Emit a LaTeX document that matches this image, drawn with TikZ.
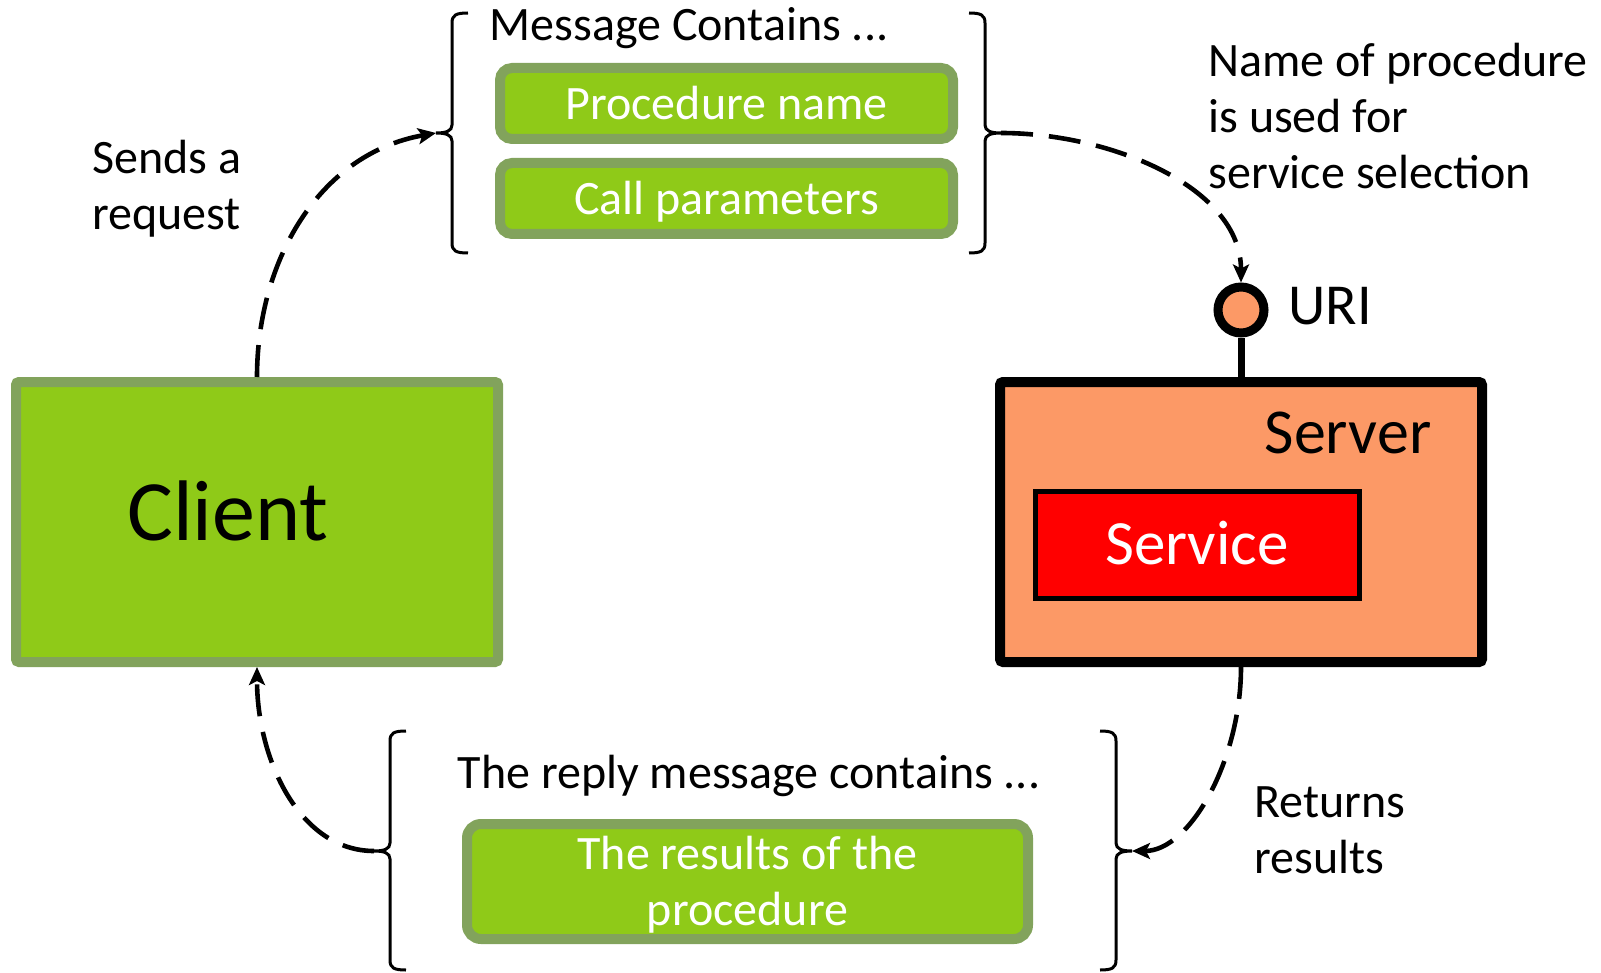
\documentclass[tikz,border=0pt]{standalone}
\usepackage{fontspec}
\setmainfont{Carlito}
\usetikzlibrary{arrows.meta}

\definecolor{leaf}{RGB}{143,202,24}
\definecolor{leafedge}{RGB}{130,163,92}
\definecolor{peach}{RGB}{252,153,102}

\begin{document}
\begin{tikzpicture}[x=0.5pt,y=-0.5pt,
  every node/.style={inner sep=0pt},
  txt/.style={font=\fontsize{24}{28}\selectfont},
  leafbox/.style={draw=leafedge, fill=leaf, line width=5pt},
  pill/.style={leafbox, rounded corners=6pt, text=white, txt, text height=16pt, text depth=0pt},
  flow/.style={line width=2.3pt, dash pattern=on 16pt off 8pt, -{Stealth[length=9pt,width=8pt,inset=2pt]}},
  brace/.style={line width=1.5pt},
]
\useasboundingbox (0,0) rectangle (1601,973);

% client
\node[leafbox, rounded corners=1.5pt, minimum width=241pt, minimum height=140pt] (client) at (257,522) {};
\node[font=\fontsize{43}{50}\selectfont, anchor=base] (clientname) at (228,540) {Client};

% server with its service and URI
\node[draw=black, fill=peach, line width=5pt, rounded corners=1.5pt, minimum width=241pt, minimum height=140pt] (server) at (1241,522) {};
\node[font=\fontsize{32}{38}\selectfont, anchor=base] (servername) at (1348,453) {Server};
\node[draw=black, fill=red, line width=2.5pt, minimum width=162pt, minimum height=53.25pt, text=white, font=\fontsize{31.5}{38}\selectfont, text height=20.2pt, text depth=0pt] (service) at (1197,544.75) {Service};
\node[circle, draw=black, fill=peach, line width=4.5pt, minimum size=23pt] (uri) at (1241,310) {};
\node[font=\fontsize{29}{34}\selectfont, anchor=base west] (uriname) at (1288,325) {URI};
\draw[line width=3.5pt] (uri.south) -- (server.north);

% request message
\node[txt, anchor=base] (msgtitle) at (689,41) {Message Contains ...};
\node[pill, minimum width=226.5pt, minimum height=35.5pt] (procname) at (726.5,103.5) {Procedure name};
\node[pill, minimum width=226.5pt, minimum height=35.5pt] (callparams) at (726.5,198.5) {Call parameters};

% reply message
\node[txt, anchor=base] (replytitle) at (749,788) {The reply message contains ...};
\node[pill, rounded corners=7pt, minimum width=280.5pt, minimum height=57.5pt, align=center, text height=43.5pt, text depth=0pt] (results) at (747.5,881.5) {The results of the\\procedure};

% brace tips
\coordinate (reqL) at (436,133);
\coordinate (reqR) at (1001,133);
\coordinate (repL) at (374,851);
\coordinate (repR) at (1132,851);

% braces
\draw[brace] (468,13) .. controls (456,13) and (452,15) .. (452,23) -- (452,125)
  .. controls (452,131) and (446,133) .. (reqL) .. controls (446,133) and (452,135) .. (452,141)
  -- (452,243) .. controls (452,251) and (456,253) .. (468,253);
\draw[brace] (969,13) .. controls (981,13) and (985,15) .. (985,23) -- (985,125)
  .. controls (985,131) and (991,133) .. (reqR) .. controls (991,133) and (985,135) .. (985,141)
  -- (985,243) .. controls (985,251) and (981,253) .. (969,253);
\draw[brace] (406,731) .. controls (394,731) and (390,733) .. (390,741) -- (390,843)
  .. controls (390,849) and (384,851) .. (repL) .. controls (384,851) and (390,853) .. (390,859)
  -- (390,960) .. controls (390,968) and (394,970) .. (406,970);
\draw[brace] (1100,731) .. controls (1112,731) and (1116,733) .. (1116,741) -- (1116,843)
  .. controls (1116,849) and (1122,851) .. (repR) .. controls (1122,851) and (1116,853) .. (1116,859)
  -- (1116,960) .. controls (1116,968) and (1112,970) .. (1100,970);

% side labels (base anchor sits on the last line)
\node[txt, anchor=base west, align=left] (sendlbl) at (92,230) {Sends a\\request};
\node[txt, anchor=base west, align=left] (namelbl) at (1208,189) {Name of procedure\\is used for\\service selection};
\node[txt, anchor=base west, align=left] (retlbl) at (1254,873) {Returns\\results};

% message flow
\draw[flow] (client.north) .. controls (257,262) and (318,154) .. (reqL);
\draw[flow] (reqR) .. controls (1110,133) and (1241,187) .. (uri.north);
\draw[flow] (server.south) .. controls (1241,760) and (1190,851) .. (repR);
\draw[flow] (repL) .. controls (300,851) and (257,760) .. (client.south);
\end{tikzpicture}
\end{document}
